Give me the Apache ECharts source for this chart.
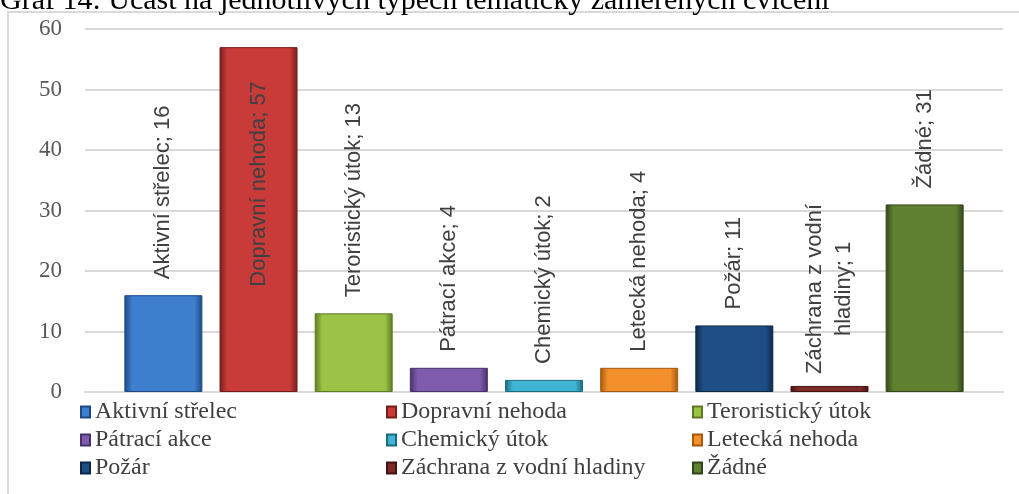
<!DOCTYPE html>
<html>
<head>
<meta charset="utf-8">
<script src="https://cdn.jsdelivr.net/npm/echarts@6/dist/echarts.min.js"></script>
<style>
  html, body { margin: 0; padding: 0; background: #fff; }
  #main { width: 1019px; height: 494px; }
</style>
</head>
<body>
<div id="main"></div>
<script>
// data
var names = ['Aktivní střelec', 'Dopravní nehoda', 'Teroristický útok', 'Pátrací akce',
             'Chemický útok', 'Letecká nehoda', 'Požár', 'Záchrana z vodní hladiny', 'Žádné'];
var values = [16, 57, 13, 4, 2, 4, 11, 1, 31];
var yMin = 0, yMax = 60, yStep = 10;
var titleText = 'Graf 14: Účast na jednotlivých typech tematicky zaměřených cvičení';

// barvy sloupců: [zakladni, tmava]
var colors = [
    ['#3d7ecd', '#1d4a85'],
    ['#c93b39', '#761c1b'],
    ['#9cc346', '#5c7a24'],
    ['#7e5bab', '#47306b'],
    ['#40b4d4', '#1c6a80'],
    ['#f3902c', '#a4570f'],
    ['#1f4e86', '#0d2747'],
    ['#7d2b28', '#421312'],
    ['#5f8030', '#32461a']
];

function barColor(c) {
    return new echarts.graphic.LinearGradient(0, 0, 1, 0, [
        {offset: 0, color: c[1]},
        {offset: 0.1, color: c[0]},
        {offset: 0.9, color: c[0]},
        {offset: 1, color: c[1]}
    ]);
}

// zalomeni dlouhych popisku (jako v Excelu)
function wrap(name, value) {
    if (name.length <= 20) return name + '; ' + value;
    var cut = name.lastIndexOf(' ', 17);
    return name.slice(0, cut) + '\n' + name.slice(cut + 1) + '; ' + value;
}

var myChart = echarts.init(document.getElementById('main'));

var series = names.map(function (n, i) {
    var label = {
        show: true,
        position: 'top',
        distance: 16,
        rotate: 90,
        align: 'left',
        verticalAlign: 'middle',
        fontFamily: '"Liberation Sans", Arial, sans-serif',
        fontSize: 22,
        lineHeight: 29,
        color: '#404040',
        formatter: function (p) {
            return wrap(p.seriesName, p.value);
        }
    };
    if (values[i] > 50) {
        label.position = 'insideTop';
        label.align = 'right';
        label.distance = 34;
    }
    if (n.length > 20) {
        label.align = 'center';
        label.distance = 97;
    }
    return {
        name: n,
        type: 'bar',
        data: [values[i]],
        barWidth: 78,
        barGap: '22%',
        itemStyle: {
            color: barColor(colors[i]),
            borderColor: colors[i][1],
            borderWidth: 1
        },
        label: label
    };
});

var legendBase = {
    orient: 'vertical',
    top: 400,
    padding: 0,
    itemWidth: 9,
    itemHeight: 11,
    itemGap: 4,
    icon: 'rect',
    textStyle: {
        fontFamily: '"Liberation Serif", "Times New Roman", serif',
        fontSize: 24,
        color: '#404040',
        padding: [0, 0, 0, 0]
    }
};

var option = {
    animation: false,
    graphic: [
        {
            type: 'rect',
            shape: {x: 8, y: 12, width: 1040, height: 520},
            style: {fill: 'none', stroke: '#d9d9d9', lineWidth: 2}
        },
        {
            type: 'text',
            x: 0,
            y: -14,
            style: {
                text: titleText,
                font: '30px "Liberation Serif", "Times New Roman", serif',
                fill: '#000'
            }
        }
    ],
    grid: {left: 85, right: 16, top: 29, bottom: 102},
    legend: [
        echarts.util.merge({left: 80, data: [names[0], names[3], names[6]]}, legendBase),
        echarts.util.merge({left: 386, data: [names[1], names[4], names[7]]}, legendBase),
        echarts.util.merge({left: 692, data: [names[2], names[5], names[8]]}, legendBase)
    ],
    xAxis: {
        type: 'category',
        data: [''],
        axisLine: {lineStyle: {color: '#d9d9d9', width: 2}},
        axisTick: {show: false},
        axisLabel: {show: false}
    },
    yAxis: {
        type: 'value',
        min: yMin,
        max: yMax,
        interval: yStep,
        axisLine: {show: false},
        axisTick: {show: false},
        axisLabel: {
            margin: 23,
            fontFamily: '"Liberation Serif", "Times New Roman", serif',
            fontSize: 23,
            color: '#595959'
        },
        splitLine: {lineStyle: {color: '#d9d9d9', width: 2}}
    },
    series: series
};

myChart.setOption(option);
</script>
</body>
</html>
